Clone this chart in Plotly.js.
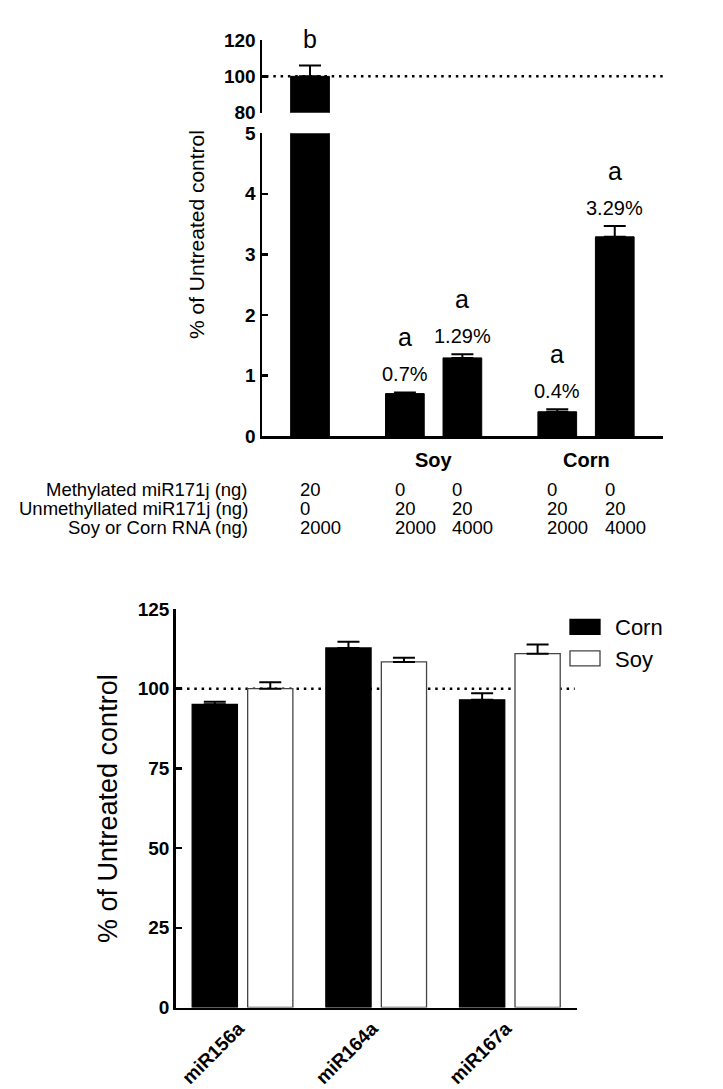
<!DOCTYPE html>
<html><head><meta charset="utf-8">
<script src="https://cdn.plot.ly/plotly-3.0.1.min.js"></script>
<style>html,body{margin:0;padding:0;background:#fff}</style>
</head><body><div id="chart" style="width:723px;height:1089px"></div>
<script>
// ---------- Top panel data ----------
const topCategories = ["Control", "Soy 2000", "Soy 4000", "Corn 2000", "Corn 4000"];
const topGroups = ["Control", "Soy", "Soy", "Corn", "Corn"];
const topValues = [100, 0.70, 1.29, 0.40, 3.29];
const topErrors = [6.0, 0.02, 0.06, 0.04, 0.18];
const topPctLabels = ["", "0.7%", "1.29%", "0.4%", "3.29%"];
const topLetters = ["b", "a", "a", "a", "a"];
const methylated = ["20", "0", "0", "0", "0"];
const unmethylated = ["0", "20", "20", "20", "20"];
const rnaAmount = ["2000", "2000", "4000", "2000", "4000"];
const rowLabels = ["Methylated miR171j (ng)", "Unmethyllated miR171j (ng)", "Soy or Corn RNA (ng)"];
const groupLabels = ["Soy", "Corn"];

// ---------- Bottom panel data ----------
const mirnas = ["miR156a", "miR164a", "miR167a"];
const cornValues = [95.1, 112.8, 96.5];
const cornErrors = [0.8, 1.9, 2.1];
const soyValues = [100.0, 108.4, 111.0];
const soyErrors = [2.0, 1.3, 2.9];

// ---------- layout helpers ----------
const W = 723, H = 1089;
const px = v => v / W;
const py = v => 1 - v / H;
const FONT = 'Arial, "Liberation Sans", sans-serif';

// positions of top bars: step 1 within a group, 1.65 between groups
const topX = [];
topCategories.forEach((c, i) => {
  if (i === 0) topX.push(0);
  else topX.push(topX[i - 1] + (topGroups[i] === topGroups[i - 1] ? 1 : 1.65));
});
const zeros = arr => arr.map(() => 0);

const traces = [
  { // upper segment (80-120)
    type: 'bar', x: [topX[0]], y: [topValues[0]], xaxis: 'x', yaxis: 'y2',
    width: 0.673, marker: {color: '#000', line: {color: '#000', width: 1}},
    error_y: {type: 'data', symmetric: false, array: [topErrors[0]], arrayminus: [0],
              color: '#000', thickness: 2, width: 11},
    showlegend: false, hoverinfo: 'skip'
  },
  { // lower segment (0-5)
    type: 'bar', x: topX, y: topValues, xaxis: 'x', yaxis: 'y',
    width: 0.673, marker: {color: '#000', line: {color: '#000', width: 1}},
    error_y: {type: 'data', symmetric: false,
              array: topErrors.map((e, i) => i === 0 ? 0 : e), arrayminus: zeros(topErrors),
              color: '#000', thickness: 2, width: 11},
    showlegend: false, hoverinfo: 'skip'
  },
  {
    type: 'bar', name: 'Corn', x: mirnas, y: cornValues, xaxis: 'x3', yaxis: 'y3',
    marker: {color: '#000', line: {color: '#000', width: 1.3}},
    error_y: {type: 'data', symmetric: false, array: cornErrors, arrayminus: zeros(cornErrors),
              color: '#000', thickness: 2, width: 11},
    hoverinfo: 'skip'
  },
  {
    type: 'bar', name: 'Soy', x: mirnas, y: soyValues, xaxis: 'x3', yaxis: 'y3',
    marker: {color: '#fff', line: {color: '#444', width: 1.3}},
    error_y: {type: 'data', symmetric: false, array: soyErrors, arrayminus: zeros(soyErrors),
              color: '#000', thickness: 2, width: 11},
    hoverinfo: 'skip'
  }
];

const tickFont = {family: FONT, size: 19, color: '#000', weight: 'bold'};
const axisCommon = {showline: true, linecolor: '#000', linewidth: 2.5, showgrid: false,
                    zeroline: false, fixedrange: true};

const annotations = [];
// y titles
annotations.push({xref: 'paper', yref: 'paper', x: px(197), y: py(234), text: '% of Untreated control',
  textangle: -90, showarrow: false, font: {family: FONT, size: 21, color: '#000'},
  xanchor: 'center', yanchor: 'middle'});
annotations.push({xref: 'paper', yref: 'paper', x: px(108), y: py(809), text: '% of Untreated control',
  textangle: -90, showarrow: false, font: {family: FONT, size: 27, color: '#000'},
  xanchor: 'center', yanchor: 'middle'});

// letters and percentages above top bars
topValues.forEach((v, i) => {
  const yref = i === 0 ? 'y2' : 'y';
  const top = v + topErrors[i];
  if (topPctLabels[i]) {
    annotations.push({xref: 'x', yref: yref, x: topX[i], y: top, text: topPctLabels[i],
      showarrow: false, yanchor: 'bottom', yshift: 5,
      font: {family: FONT, size: 20, color: '#000'}});
  }
  annotations.push({xref: 'x', yref: yref, x: topX[i], y: top, text: topLetters[i],
    showarrow: false, yanchor: 'bottom', yshift: topPctLabels[i] ? 39 : 10,
    font: {family: FONT, size: 25, color: '#000'}});
});

// table under top panel
const rowY = [489, 508, 527];
const rowValues = [methylated, unmethylated, rnaAmount];
rowLabels.forEach((lab, r) => {
  annotations.push({xref: 'paper', yref: 'paper', x: px(250), y: py(rowY[r]), text: lab,
    xanchor: 'right', yanchor: 'middle', showarrow: false,
    font: {family: FONT, size: 18.5, color: '#000'}});
  rowValues[r].forEach((val, i) => {
    annotations.push({xref: 'x', yref: 'paper', x: topX[i], y: py(rowY[r]), text: val,
      xanchor: 'left', xshift: -12, yanchor: 'middle', showarrow: false,
      font: {family: FONT, size: 18.5, color: '#000'}});
  });
});
groupLabels.forEach(g => {
  const xs = topX.filter((x, i) => topGroups[i] === g);
  const cx = xs.reduce((a, b) => a + b, 0) / xs.length;
  annotations.push({xref: 'x', yref: 'paper', x: cx, y: py(460), text: g,
    xanchor: 'center', yanchor: 'middle', showarrow: false,
    font: {family: FONT, size: 20, color: '#000', weight: 'bold'}});
});

const dotStyle = {color: '#000', width: 2.5, dash: '2.5px,4.8px'};
const layout = {
  width: W, height: H,
  margin: {l: 0, r: 0, t: 0, b: 0, pad: 0},
  paper_bgcolor: '#fff', plot_bgcolor: 'rgba(0,0,0,0)',
  font: {family: FONT, color: '#000'},
  barmode: 'group', bargap: 0.17, bargroupgap: 0.185,
  showlegend: true,
  legend: {x: px(555), y: py(606), xanchor: 'left', yanchor: 'top',
           font: {family: FONT, size: 22, color: '#000'}, bgcolor: 'rgba(0,0,0,0)',
           itemwidth: 50, tracegroupgap: 0},
  xaxis: Object.assign({}, axisCommon, {domain: [px(262), px(663)], range: [-0.835, 6.139],
          anchor: 'y', ticks: '', showticklabels: false}),
  yaxis: Object.assign({}, axisCommon, {domain: [py(436), py(133.3)], range: [0, 5],
          anchor: 'x', tickvals: [0, 1, 2, 3, 4, 5], ticks: 'inside', ticklen: 6, tickwidth: 2.5,
          tickcolor: '#000', tickfont: tickFont}),
  yaxis2: Object.assign({}, axisCommon, {domain: [py(112.7), py(40)], range: [80, 120],
          anchor: 'x', tickvals: [80, 100, 120], ticks: 'inside', ticklen: 6, tickwidth: 2.5,
          tickcolor: '#000', tickfont: tickFont}),
  xaxis3: Object.assign({}, axisCommon, {domain: [px(175.7), px(576.7)], range: [-0.5, 2.5],
          anchor: 'y3', ticks: '', tickangle: -45, ticklabelstandoff: 0, ticklabelshift: -4,
          tickfont: {family: FONT, size: 19, color: '#000', weight: 'bold'}}),
  yaxis3: Object.assign({}, axisCommon, {domain: [py(1007.5), py(609)], range: [0, 125],
          anchor: 'x3', tickvals: [0, 25, 50, 75, 100, 125], ticks: 'inside', ticklen: 6,
          tickwidth: 2.5, tickcolor: '#000', tickfont: tickFont}),
  shapes: [
    {type: 'line', xref: 'x domain', yref: 'y2', x0: 0.01, x1: 1, y0: 100, y1: 100,
     line: dotStyle, layer: 'below'},
    {type: 'line', xref: 'x3 domain', yref: 'y3', x0: 0.01, x1: 0.995, y0: 100, y1: 100,
     line: dotStyle, layer: 'below'}
  ],
  annotations: annotations
};

Plotly.newPlot('chart', traces, layout, {staticPlot: true, displayModeBar: false}).then(() => {
  document.querySelectorAll('.legend .legendpoints path').forEach(p => {
    p.setAttribute('d', 'M15,7.5H-15V-7.5H15Z');
  });
});
</script>
</body></html>
